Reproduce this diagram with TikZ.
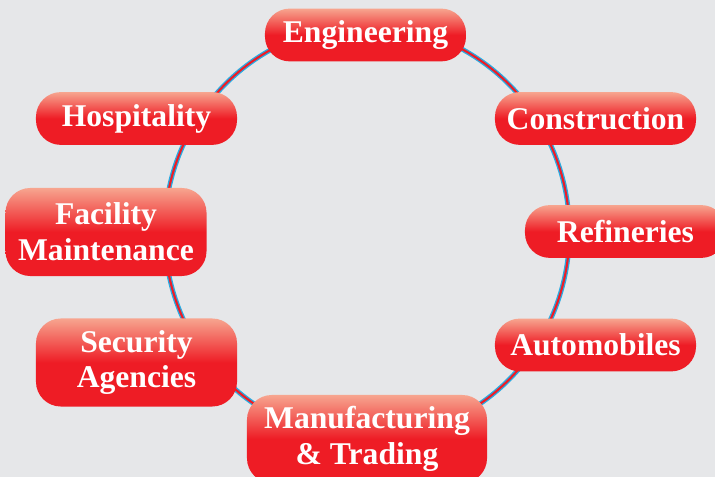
\documentclass[tikz,border=0pt]{standalone}
\usepackage{fontspec}
\setmainfont{Liberation Serif}
\usepackage{tikz}
\usetikzlibrary{positioning,calc}
\definecolor{bgGray}{HTML}{E6E7E9}
\definecolor{boxRed}{HTML}{EE1C25}
\definecolor{boxLight}{HTML}{F7A58F}
\definecolor{ringBlue}{HTML}{29ABE2}

\begin{document}
\begin{tikzpicture}[x=0.025cm,y=-0.025cm,
    sector/.style={rounded corners=0.62cm, top color=boxLight, bottom color=boxRed,
        middle color=boxRed, text=white, inner sep=0pt, align=center,
        font=\fontsize{22.5}{25.5}\selectfont\bfseries,
        minimum width=5.025cm, minimum height=1.32cm},
    tall/.style={minimum height=2.2cm}]

    % Canvas
    \useasboundingbox (0,0) rectangle (715,477);
    \fill[bgGray] (0,0) rectangle (715,477);
    \clip (0,0) rectangle (715,477);

    % Ring
    \coordinate (ctr) at (367,232);
    \draw[ringBlue, line width=3.4pt] (ctr) ellipse [x radius=5.06cm, y radius=5.175cm];
    \draw[boxRed, line width=1.5pt] (ctr) ellipse [x radius=5.06cm, y radius=5.175cm];

    % Sectors
    \node[sector] (eng) at (365.5,35) {Engineering};
    \node[sector] (con) at (595.5,118.5) {Construction};
    \node[sector] (hos) at (136.5,118.5) {Hospitality};
    \node[sector] (ref) at (625.5,231.5) {Refineries};
    \node[sector, tall] (fac) at (106,232) {Facility\\Maintenance};
    \node[sector] (aut) at (595.5,345) {Automobiles};
    \node[sector, tall] (sec) at (136.5,362.5) {Security\\Agencies};
    \node[sector, tall, minimum width=6cm] (man) at (367,439) {Manufacturing\\\& Trading};
\end{tikzpicture}
\end{document}
